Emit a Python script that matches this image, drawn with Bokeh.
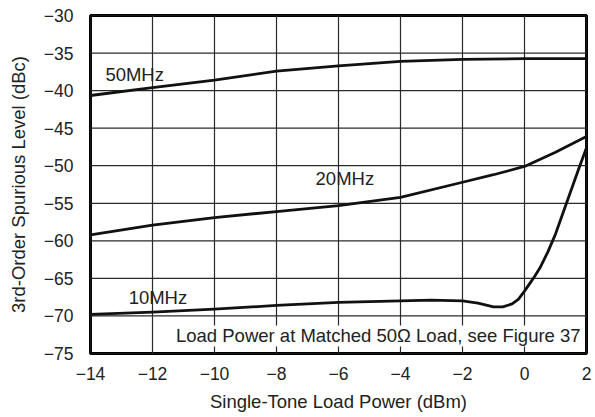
from bokeh.plotting import figure
from bokeh.models import FixedTicker, Range1d, Label
from bokeh.core.properties import value
from bokeh.embed import file_html
from bokeh.resources import INLINE

# ---- data ----
x_50 = [-14, -12, -10, -8, -6, -4, -2, 0, 2]
y_50 = [-40.65, -39.6, -38.6, -37.4, -36.7, -36.1, -35.85, -35.75, -35.75]

x_20 = [-14, -12, -10, -8, -6, -4, -2, -1, 0, 1, 2]
y_20 = [-59.2, -57.9, -56.9, -56.1, -55.3, -54.2, -52.2, -51.2, -50.1, -48.2, -46.1]

x_10 = [-14, -12, -10, -8, -6, -4, -3, -2, -1.5, -1, -0.7, -0.4, -0.2, 0, 0.3, 0.5, 0.75, 1.0, 1.25, 1.5, 1.75, 2]
y_10 = [-69.8, -69.5, -69.1, -68.6, -68.2, -68.0, -67.9, -68.0, -68.3, -68.8, -68.8, -68.4,
        -67.8, -66.7, -64.9, -63.6, -61.5, -59.1, -56.2, -53.3, -50.4, -47.6]

x_ticks = [-14, -12, -10, -8, -6, -4, -2, 0, 2]
x_tick_labels = ["\u221214", "\u221212", "\u221210", "\u22128", "\u22126", "\u22124", "\u22122", "0", "2"]
y_ticks = [-30, -35, -40, -45, -50, -55, -60, -65, -70, -75]
y_tick_labels = ["\u221230", "\u221235", "\u221240", "\u221245", "\u221250", "\u221255",
                 "\u221260", "\u221265", "\u221270", "\u221275"]

series_labels = ["50MHz", "20MHz", "10MHz"]
series_label_x = [-13.52, -6.74, -12.77]
series_label_y = [-37.85, -51.65, -67.5]
note = "Load Power at Matched 50\u03a9 Load, see Figure 37"

FONT = "Liberation Sans"

x_lo, x_hi = x_ticks[0], x_ticks[-1]
y_lo, y_hi = min(y_ticks), max(y_ticks)

p = figure(width=595, height=417, output_backend="svg", toolbar_location=None,
           x_range=Range1d(x_lo, x_hi), y_range=Range1d(y_lo, y_hi),
           min_border_left=90, min_border_right=9, min_border_top=15, min_border_bottom=64)

p.outline_line_color = "black"
p.outline_line_width = 3
p.background_fill_color = "white"
p.border_fill_color = "white"

p.xaxis.ticker = FixedTicker(ticks=x_ticks)
p.yaxis.ticker = FixedTicker(ticks=y_ticks)
p.xaxis.major_label_overrides = {t: l for t, l in zip(x_ticks, x_tick_labels)}
p.yaxis.major_label_overrides = {t: l for t, l in zip(y_ticks, y_tick_labels)}
p.xgrid.visible = False
p.ygrid.visible = False

for ax in (p.xaxis, p.yaxis):
    ax.axis_line_color = None
    ax.major_tick_line_color = None
    ax.minor_tick_line_color = None
    ax.major_tick_out = 0
    ax.major_tick_in = 0
    ax.major_label_text_font = FONT
    ax.major_label_text_font_size = "17.5px"
    ax.major_label_text_color = "#222222"
    ax.axis_label_text_font = FONT
    ax.axis_label_text_font_size = "18.5px"
    ax.axis_label_text_font_style = "normal"
    ax.axis_label_text_color = "#222222"

p.xaxis.axis_label = "Single-Tone Load Power (dBm)"
p.yaxis.axis_label = "3rd-Order Spurious Level (dBc)"
p.xaxis.major_label_standoff = 13
p.xaxis.axis_label_standoff = 8
p.yaxis.major_label_standoff = 17
p.yaxis.axis_label_standoff = 12

# grid drawn as ordinary line marks, built from the tick lists and axis limits
grid_xs = [[t, t] for t in x_ticks] + [[x_lo, x_hi] for _ in y_ticks]
grid_ys = [[y_lo, y_hi] for _ in x_ticks] + [[t, t] for t in y_ticks]
p.multi_line(grid_xs, grid_ys, line_color="#2a2a2a", line_width=1.2)

for xs, ys in ((x_50, y_50), (x_20, y_20), (x_10, y_10)):
    p.line(xs, ys, line_color="#111111", line_width=2.8, line_join="round", line_cap="round")

p.text(x=series_label_x, y=series_label_y, text=series_labels,
       text_font=value(FONT), text_font_size=value("18.5px"), text_color="#222222",
       text_baseline="middle", text_align="left")

p.add_layout(Label(x=1.81, y=-72.67, text=note, text_font=FONT, text_font_size="18.5px",
                   text_color="#222222", text_baseline="middle", text_align="right",
                   background_fill_color="white", background_fill_alpha=1.0))

open("out.html", "w").write(file_html(p, INLINE))
